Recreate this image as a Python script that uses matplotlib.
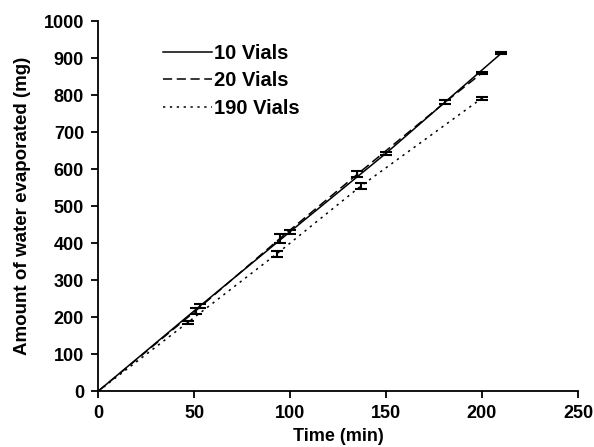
import matplotlib
matplotlib.use('Agg')
import matplotlib.pyplot as plt

plt.rcParams['font.family'] = ['Liberation Sans', 'DejaVu Sans']
plt.rcParams['font.weight'] = 'bold'

# data
t_10   = [0, 53, 100, 150, 210]
w_10   = [0, 230, 431, 643, 913]
e_10   = [0, 6, 5, 4, 3]

t_20   = [0, 51, 95, 135, 181, 200]
w_20   = [0, 218, 414, 586, 782, 860]
e_20   = [0, 8, 12, 8, 6, 3]

t_190  = [0, 47, 93, 137, 200]
w_190  = [0, 187, 371, 555, 792]
e_190  = [0, 4, 8, 8, 4]

fig = plt.figure(figsize=(5.94, 4.47), dpi=100)
ax = fig.add_axes([0.165, 0.1246, 0.808, 0.828])

ax.plot(t_10, w_10, color='black', linewidth=1.1, linestyle='-', label='10 Vials')
ax.plot(t_20, w_20, color='black', linewidth=1.1, linestyle=(0, (6, 3)), label='20 Vials')
ax.plot(t_190, w_190, color='black', linewidth=1.1, linestyle=(0, (1.5, 3)), label='190 Vials')

for t, w, e in [(t_10, w_10, e_10), (t_20, w_20, e_20), (t_190, w_190, e_190)]:
    ax.errorbar(t[1:], w[1:], yerr=e[1:], fmt='none', ecolor='black',
                elinewidth=1.5, capsize=4, capthick=1.5)

ax.set_xlim(0, 250)
ax.set_ylim(0, 1000)
ax.set_xticks(range(0, 251, 50))
ax.set_yticks(range(0, 1001, 100))
ax.spines['top'].set_visible(False)
ax.spines['right'].set_visible(False)
for s in ['left', 'bottom']:
    ax.spines[s].set_linewidth(1.3)
ax.tick_params(direction='out', length=5, width=1.3, labelsize=13, pad=5)
for lab in ax.get_xticklabels() + ax.get_yticklabels():
    lab.set_fontweight('bold')

ax.set_xlabel('Time (min)', fontsize=13, fontweight='bold', labelpad=4)
ax.set_ylabel('Amount of water evaporated (mg)', fontsize=13.5, fontweight='bold', labelpad=9)

leg = ax.legend(loc='upper left', bbox_to_anchor=(0.098, 0.988), frameon=False,
                fontsize=14.5, handlelength=2.4, handletextpad=0.1, labelspacing=0.42)
for txt in leg.get_texts():
    txt.set_fontweight('bold')

plt.savefig('out.png', dpi=100)
